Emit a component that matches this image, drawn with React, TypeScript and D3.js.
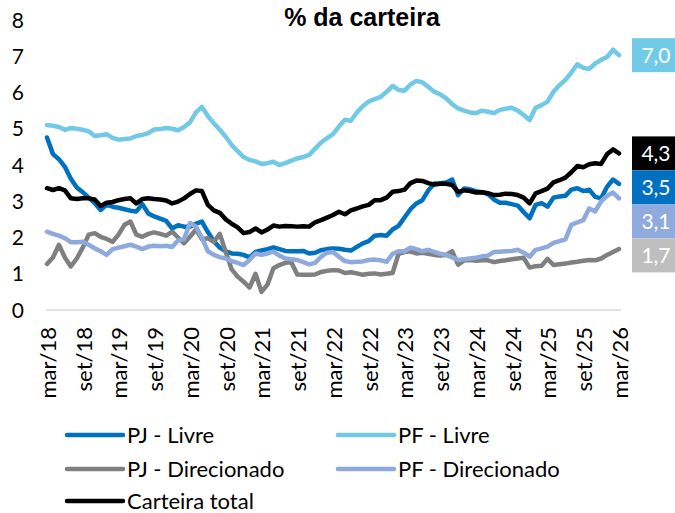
import React, { useEffect } from "react";
import * as d3 from "d3";

const monthNames = ["jan", "fev", "mar", "abr", "mai", "jun", "jul", "ago", "set", "out", "nov", "dez"];
const startYear = 2018;
const startMonth = 2; // março
const nMonths = 97;
const categories: string[] = Array.from({ length: nMonths }, (_, i) => {
  const m = (startMonth + i) % 12;
  const y = startYear + Math.floor((startMonth + i) / 12);
  return `${monthNames[m]}/${String(y).slice(2)}`;
});
const tickEvery = 6;
const yTicks = [0, 1, 2, 3, 4, 5, 6, 7, 8];
const title = "% da carteira";

const pjLivre = [
  4.76, 4.3, 4.16, 3.95, 3.62, 3.38, 3.25, 3.1, 2.95, 2.76, 2.9, 2.85, 2.82, 2.78, 2.74, 2.72, 2.92, 2.66, 2.58, 2.52,
  2.46, 2.25, 2.34, 2.3, 2.3, 2.38, 2.44, 2.15, 1.9, 1.72, 1.62, 1.56, 1.55, 1.52, 1.45, 1.6, 1.64, 1.68, 1.73, 1.68,
  1.63, 1.62, 1.62, 1.63, 1.56, 1.58, 1.65, 1.68, 1.7, 1.69, 1.66, 1.64, 1.74, 1.84, 1.9, 2.05, 2.07, 2.05, 2.22, 2.32,
  2.55, 2.78, 2.94, 3.03, 3.3, 3.49, 3.5, 3.52, 3.6, 3.17, 3.35, 3.33, 3.28, 3.25, 3.2, 3.05, 2.96, 2.96, 2.92, 2.88,
  2.7, 2.53, 2.9, 2.95, 2.85, 3.1, 3.13, 3.15, 3.32, 3.36, 3.28, 3.32, 3.12, 3.08, 3.4, 3.6, 3.48,
];
const pfLivre = [
  5.1, 5.08, 5.05, 4.97, 5.02, 5.0, 4.97, 4.93, 4.8, 4.82, 4.85, 4.75, 4.7, 4.72, 4.73, 4.8, 4.83, 4.88, 4.98, 4.99,
  5.02, 5.0, 4.96, 5.05, 5.18, 5.45, 5.6, 5.35, 5.15, 4.97, 4.78, 4.55, 4.38, 4.22, 4.14, 4.1, 4.03, 4.05, 4.09, 4.0,
  4.05, 4.12, 4.18, 4.22, 4.28, 4.45, 4.62, 4.74, 4.85, 5.06, 5.25, 5.22, 5.45, 5.62, 5.75, 5.82, 5.88, 6.02, 6.18, 6.07,
  6.05, 6.22, 6.32, 6.28, 6.15, 6.02, 5.95, 5.84, 5.68, 5.56, 5.5, 5.45, 5.43, 5.5, 5.47, 5.43, 5.52, 5.55, 5.58, 5.5,
  5.38, 5.24, 5.58, 5.65, 5.75, 6.02, 6.2, 6.35, 6.55, 6.78, 6.68, 6.65, 6.8, 6.9, 6.98, 7.18, 7.03,
];
const pjDirecionado = [
  1.27, 1.45, 1.8, 1.45, 1.2, 1.42, 1.72, 2.08, 2.12, 2.02, 1.96, 1.88, 2.08, 2.35, 2.44, 2.08, 2.02, 2.1, 2.14, 2.1,
  2.05, 2.16, 2.0, 1.84, 2.02, 2.22, 1.95, 1.98, 1.88, 2.1, 1.6, 1.12, 0.92, 0.78, 0.62, 1.0, 0.5, 0.7, 1.15, 1.24,
  1.3, 1.32, 0.98, 0.97, 0.97, 0.98, 1.05, 1.08, 1.1, 1.09, 1.02, 1.04, 1.01, 0.97, 1.0, 1.01, 0.98, 1.0, 1.02, 1.55,
  1.6, 1.62, 1.56, 1.58, 1.55, 1.52, 1.5, 1.52, 1.62, 1.25, 1.37, 1.38, 1.36, 1.37, 1.37, 1.32, 1.35, 1.37, 1.4, 1.42,
  1.44, 1.17, 1.21, 1.22, 1.41, 1.24, 1.26, 1.28, 1.31, 1.33, 1.36, 1.38, 1.37, 1.42, 1.52, 1.6, 1.68,
];
const pfDirecionado = [
  2.16, 2.1, 2.05, 1.98, 1.87, 1.87, 1.88, 1.8, 1.7, 1.62, 1.52, 1.68, 1.72, 1.76, 1.8, 1.75, 1.68, 1.75, 1.77, 1.76,
  1.77, 1.74, 1.92, 1.96, 2.4, 2.3, 2.0, 1.62, 1.52, 1.46, 1.42, 1.35, 1.3, 1.24, 1.38, 1.56, 1.52, 1.56, 1.61, 1.5,
  1.42, 1.4, 1.38, 1.32, 1.26, 1.3, 1.47, 1.58, 1.6, 1.47, 1.35, 1.32, 1.33, 1.34, 1.38, 1.39, 1.37, 1.33, 1.55, 1.62,
  1.62, 1.72, 1.68, 1.62, 1.66, 1.6, 1.55, 1.52, 1.45, 1.38, 1.4, 1.42, 1.44, 1.48, 1.5, 1.6, 1.61, 1.62, 1.63, 1.66,
  1.58, 1.47, 1.66, 1.7, 1.75, 1.85, 1.9, 1.95, 2.35, 2.42, 2.48, 2.8, 2.72, 3.0, 3.15, 3.24, 3.08,
];
const carteiraTotal = [
  3.36, 3.31, 3.36, 3.3, 3.08, 3.06, 3.08, 3.08, 3.05, 2.87, 2.96, 2.98, 3.03, 3.06, 3.08, 2.94, 3.06, 3.08, 3.06, 3.05,
  3.02, 2.94, 2.99, 3.08, 3.2, 3.3, 3.28, 2.9, 2.75, 2.68, 2.5, 2.38, 2.28, 2.12, 2.15, 2.25, 2.14, 2.22, 2.33, 2.3,
  2.32, 2.31, 2.3, 2.31, 2.3, 2.42, 2.48, 2.55, 2.62, 2.71, 2.64, 2.75, 2.8, 2.86, 2.9, 3.03, 3.03, 3.1, 3.26, 3.28,
  3.32, 3.5, 3.57, 3.56, 3.5, 3.46, 3.48, 3.48, 3.45, 3.26, 3.3, 3.28, 3.24, 3.25, 3.22, 3.17, 3.18, 3.21, 3.2, 3.17,
  3.1, 2.94, 3.22, 3.28, 3.35, 3.52, 3.58, 3.65, 3.8, 3.97, 3.94, 4.02, 4.05, 4.03, 4.3, 4.43, 4.32,
];

const seriesNames = ["PJ - Livre", "PF - Livre", "PJ - Direcionado", "PF - Direcionado", "Carteira total"];
const seriesValues = [pjLivre, pfLivre, pjDirecionado, pfDirecionado, carteiraTotal];
const lineColors = ["#0070C0", "#71C9E6", "#7F7F7F", "#8EA9DB", "#000000"];
const labelBoxColors = ["#0070C0", "#71CAE6", "#BFBFBF", "#8FAADC", "#000000"];

const W = 675;
const H = 513;
const FONT = "Lato, 'Open Sans', sans-serif";

export default function App() {
  useEffect(() => {
    document.body.style.margin = "0";
  }, []);

  const x = d3.scalePoint<string>().domain(categories).range([47, 619]);
  const y = d3.scaleLinear().domain([0, 8]).range([310, 20]);
  const line = d3
    .line<number>()
    .x((_, i) => x(categories[i]) as number)
    .y((d) => y(d));

  // end labels, stacked to avoid overlap
  const boxH = 34;
  const order = d3.range(seriesValues.length).sort(
    (a, b) => seriesValues[b][seriesValues[b].length - 1] - seriesValues[a][seriesValues[a].length - 1]
  );
  const centers: Record<number, number> = {};
  let prev = -Infinity;
  order.forEach((k) => {
    const v = seriesValues[k][seriesValues[k].length - 1];
    const c = Math.max(y(v), prev + boxH);
    centers[k] = c;
    prev = c;
  });
  const fmt = (v: number) => d3.format(".1f")(v).replace(".", ",");

  const legendRows = [435, 469, 501];
  const legendCols = [67, 338];

  return (
    <svg width={W} height={H} style={{ display: "block", position: "absolute", left: 0, top: 0, background: "#fff" }}>
      <text
        x={362}
        y={26}
        textAnchor="middle"
        fontFamily="'Liberation Sans', Arial, sans-serif"
        fontWeight="bold"
        fontSize={25}
        fill="#000"
      >
        {title}
      </text>
      {yTicks.map((t) => (
        <text key={t} x={24} y={y(t)} dy="0.36em" textAnchor="end" fontFamily={FONT} fontSize={21} fill="#000">
          {t}
        </text>
      ))}
      <line x1={46} x2={621} y1={y(0)} y2={y(0)} stroke="#D9D9D9" strokeWidth={1.5} />
      {categories.map((c, i) =>
        i % tickEvery === 0 ? (
          <text
            key={c}
            transform={`translate(${(x(c) as number) + 1},327) rotate(-90)`}
            dy="0.36em"
            textAnchor="end"
            fontFamily={FONT}
            fontSize={22}
            fill="#000"
          >
            {c}
          </text>
        ) : null
      )}
      {seriesValues.map((vals, k) => (
        <path
          key={seriesNames[k]}
          d={line(vals) || ""}
          fill="none"
          stroke={lineColors[k]}
          strokeWidth={4.5}
          strokeLinejoin="round"
          strokeLinecap="round"
        />
      ))}
      {order.map((k) => {
        const v = seriesValues[k][seriesValues[k].length - 1];
        const c = centers[k];
        return (
          <g key={"lab" + k}>
            <rect x={632} y={c - boxH / 2} width={50} height={boxH} fill={labelBoxColors[k]} />
            <text x={656} y={c} dy="0.36em" textAnchor="middle" fontFamily={FONT} fontSize={21} fill="#fff">
              {fmt(v)}
            </text>
          </g>
        );
      })}
      {seriesNames.map((name, k) => {
        const row = Math.floor(k / 2);
        const col = k % 2;
        const lx = legendCols[col];
        const ly = legendRows[row];
        return (
          <g key={"leg" + k}>
            <line x1={lx} x2={lx + 56} y1={ly} y2={ly} stroke={lineColors[k]} strokeWidth={4.5} strokeLinecap="round" />
            <text x={lx + 60} y={ly} dy="0.36em" fontFamily={FONT} fontSize={22} fill="#000">
              {name}
            </text>
          </g>
        );
      })}
    </svg>
  );
}
